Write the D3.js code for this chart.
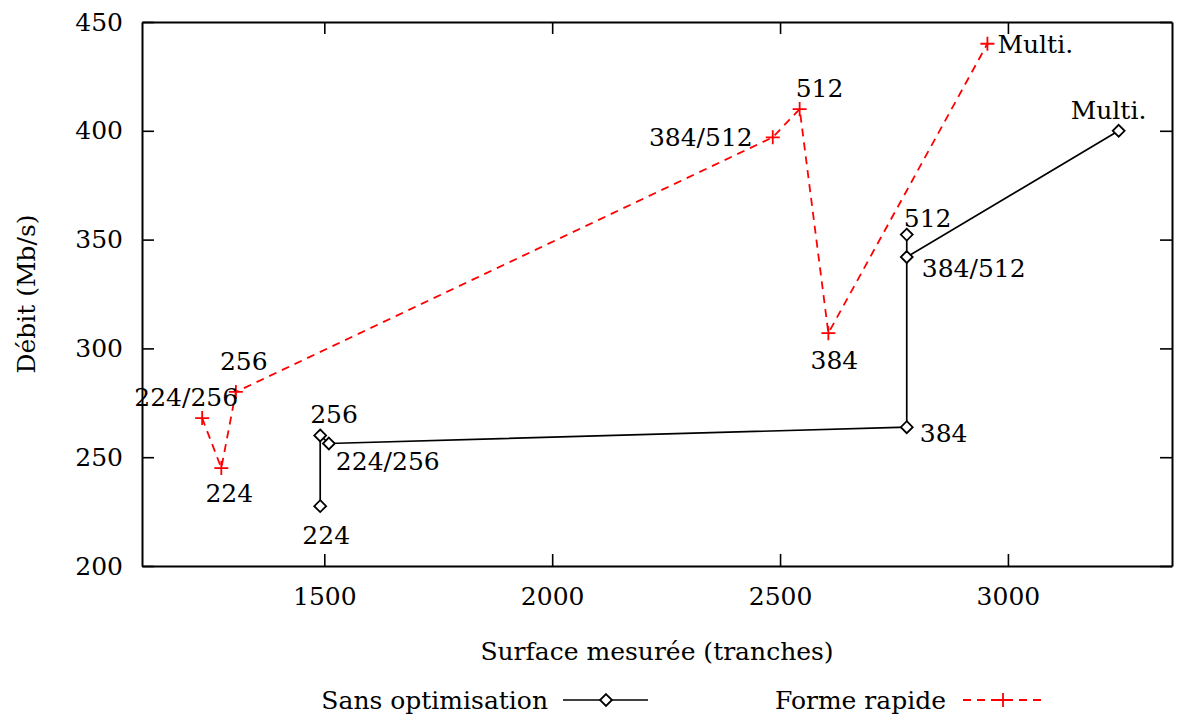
<!DOCTYPE html>
<html lang="fr">
<head>
  <meta charset="UTF-8">
  <title>Débit vs surface</title>
  <script src="https://d3js.org/d3.v7.min.js"></script>
  <style>
    body { margin: 0; background: #fff; }
    text { font-family: "DejaVu Serif", "Liberation Serif", serif; fill: #000; }
  </style>
</head>
<body>
  <div id="chart"></div>
  <script>
    // Data
    const labels = ['224', '256', '224/256', '384', '512', '384/512', 'Multi.'];

    // Sans optimisation (black, diamonds)
    const sansX = [1491, 1491, 1510, 2778, 2778, 2778, 3243];
    const sansY = [227.5, 260, 256.3, 263.8, 352.3, 342, 400];

    // Forme rapide (red, dashed, plus) - in drawing order
    const rapideLabels = ['224/256', '224', '256', '384/512', '512', '384', 'Multi.'];
    const rapideX = [1232, 1274, 1306, 2484, 2543, 2606, 2955];
    const rapideY = [268, 245, 280, 397, 410, 307, 440];

    const xTicks = [1500, 2000, 2500, 3000];
    const yTicks = [200, 250, 300, 350, 400, 450];

    // label placement (offsets in px from the point, anchor)
    const sansLabelPos = {
      '224': [6, 38, 'middle'], '256': [-10, -12, 'start'], '224/256': [7, 27, 'start'],
      '384': [13, 15, 'start'], '512': [-3, -8, 'start'], '384/512': [15, 20, 'start'],
      'Multi.': [-48, -12, 'start']
    };
    const rapideLabelPos = {
      '224/256': [36, -12, 'end'], '224': [8, 34, 'middle'], '256': [-16, -22, 'start'],
      '384/512': [-20, 9, 'end'], '512': [-4, -12, 'start'], '384': [6, 36, 'middle'],
      'Multi.': [10, 9, 'start']
    };

    const width = 1192, height = 722;
    const margin = { top: 22, right: 20, bottom: 156, left: 142 };

    const svg = d3.select('#chart').append('svg')
      .attr('width', width)
      .attr('height', height);

    const x = d3.scaleLinear().domain([1100, 3360]).range([margin.left, width - margin.right]);
    const y = d3.scaleLinear().domain([200, 450]).range([height - margin.bottom, margin.top]);

    const fs = 25;
    const tickLen = 12;

    // axes (ticks inward, mirrored)
    const axBottom = svg.append('g')
      .attr('transform', `translate(0,${y(200)})`)
      .call(d3.axisBottom(x).tickValues(xTicks).tickFormat(d3.format('d'))
        .tickSizeInner(-tickLen).tickSizeOuter(0).tickPadding(20));
    const axTop = svg.append('g')
      .attr('transform', `translate(0,${y(450)})`)
      .call(d3.axisTop(x).tickValues(xTicks).tickSizeInner(-tickLen).tickSizeOuter(0).tickFormat(''));
    const axLeft = svg.append('g')
      .attr('transform', `translate(${x(1100)},0)`)
      .call(d3.axisLeft(y).tickValues(yTicks).tickSizeInner(-tickLen).tickSizeOuter(0).tickPadding(19));
    const axRight = svg.append('g')
      .attr('transform', `translate(${x(3360)},0)`)
      .call(d3.axisRight(y).tickValues(yTicks).tickSizeInner(-tickLen).tickSizeOuter(0).tickFormat(''));

    [axBottom, axTop, axLeft, axRight].forEach(g => {
      g.select('.domain').attr('stroke', '#000').attr('stroke-width', 2);
      g.selectAll('.tick line').attr('stroke', '#000').attr('stroke-width', 1.6);
      g.selectAll('.tick text').attr('font-size', fs).attr('font-family', '"DejaVu Serif", serif').attr('fill', '#000');
    });
    axBottom.selectAll('.tick text').attr('dy', '0.75em');

    // axis titles
    svg.append('text')
      .attr('x', (x(1100) + x(3360)) / 2)
      .attr('y', 660)
      .attr('text-anchor', 'middle')
      .attr('font-size', fs)
      .text('Surface mesurée (tranches)');

    svg.append('text')
      .attr('transform', `translate(35,${(y(200) + y(450)) / 2}) rotate(-90)`)
      .attr('text-anchor', 'middle')
      .attr('font-size', fs)
      .text('Débit (Mb/s)');

    const sansData = labels.map((l, i) => ({ label: l, x: sansX[i], y: sansY[i] }));
    const rapideData = rapideLabels.map((l, i) => ({ label: l, x: rapideX[i], y: rapideY[i] }));

    const line = d3.line().x(d => x(d.x)).y(d => y(d.y));

    const diamond = d3.symbol().type(d3.symbolDiamond2).size(90);
    const plus = (cx, cy, r) => `M${cx - r},${cy}H${cx + r}M${cx},${cy - r}V${cy + r}`;

    // Sans optimisation
    svg.append('path')
      .datum(sansData)
      .attr('d', line)
      .attr('fill', 'none')
      .attr('stroke', '#000')
      .attr('stroke-width', 1.7);

    svg.selectAll('.diamond')
      .data(sansData)
      .enter().append('path')
      .attr('class', 'diamond')
      .attr('d', diamond)
      .attr('transform', d => `translate(${x(d.x)},${y(d.y)})`)
      .attr('fill', '#fff')
      .attr('stroke', '#000')
      .attr('stroke-width', 1.8);

    // Forme rapide
    svg.append('path')
      .datum(rapideData)
      .attr('d', line)
      .attr('fill', 'none')
      .attr('stroke', '#f00')
      .attr('stroke-width', 1.8)
      .attr('stroke-dasharray', '8,6');

    svg.selectAll('.plus')
      .data(rapideData)
      .enter().append('path')
      .attr('class', 'plus')
      .attr('d', d => plus(x(d.x), y(d.y), 7))
      .attr('stroke', '#f00')
      .attr('stroke-width', 1.8);

    // point labels
    svg.selectAll('.lab-sans')
      .data(sansData)
      .enter().append('text')
      .attr('class', 'lab-sans')
      .attr('x', d => x(d.x) + sansLabelPos[d.label][0])
      .attr('y', d => y(d.y) + sansLabelPos[d.label][1])
      .attr('text-anchor', d => sansLabelPos[d.label][2])
      .attr('font-size', fs)
      .text(d => d.label);

    svg.selectAll('.lab-rapide')
      .data(rapideData)
      .enter().append('text')
      .attr('class', 'lab-rapide')
      .attr('x', d => x(d.x) + rapideLabelPos[d.label][0])
      .attr('y', d => y(d.y) + rapideLabelPos[d.label][1])
      .attr('text-anchor', d => rapideLabelPos[d.label][2])
      .attr('font-size', fs)
      .text(d => d.label);

    // legend
    const legY = 700;
    const leg = svg.append('g');
    leg.append('text').attr('x', 548).attr('y', legY + 9).attr('text-anchor', 'end')
      .attr('font-size', fs).text('Sans optimisation');
    leg.append('line').attr('x1', 563).attr('x2', 648).attr('y1', legY).attr('y2', legY)
      .attr('stroke', '#000').attr('stroke-width', 1.7);
    leg.append('path').attr('d', diamond).attr('transform', `translate(606,${legY})`)
      .attr('fill', '#fff').attr('stroke', '#000').attr('stroke-width', 1.8);

    leg.append('text').attr('x', 946).attr('y', legY + 9).attr('text-anchor', 'end')
      .attr('font-size', fs).text('Forme rapide');
    leg.append('line').attr('x1', 963).attr('x2', 1043).attr('y1', legY).attr('y2', legY)
      .attr('stroke', '#f00').attr('stroke-width', 1.8).attr('stroke-dasharray', '8,6');
    leg.append('path').attr('d', plus(1003, legY, 7))
      .attr('stroke', '#f00').attr('stroke-width', 1.8);
  </script>
</body>
</html>
